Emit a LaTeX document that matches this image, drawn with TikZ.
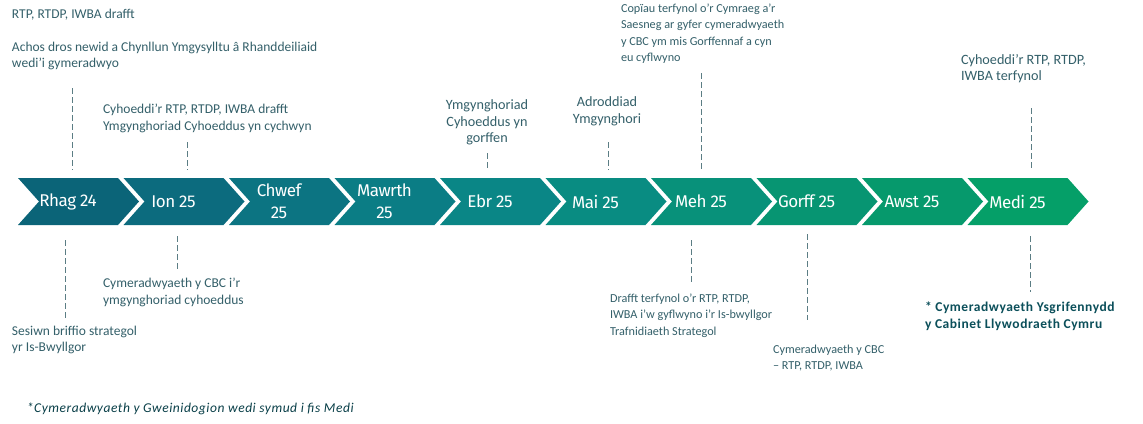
\documentclass[tikz,border=0pt]{standalone}
\usepackage{fontspec}
\setmainfont{Carlito}
\newfontfamily\chevfont[LetterSpace=-3]{Fira Sans}
\newfontfamily\widefont[LetterSpace=4]{Carlito}
\definecolor{annot}{HTML}{34606A}
\definecolor{boldc}{HTML}{0B4F5A}
\definecolor{dashc}{HTML}{5B7D84}
\definecolor{cv0}{HTML}{0B6478}
\definecolor{cv1}{HTML}{0C6B7E}
\definecolor{cv2}{HTML}{0C7482}
\definecolor{cv3}{HTML}{0B7D85}
\definecolor{cv4}{HTML}{0A8686}
\definecolor{cv5}{HTML}{098C82}
\definecolor{cv6}{HTML}{08917A}
\definecolor{cv7}{HTML}{079572}
\definecolor{cv8}{HTML}{06996C}
\definecolor{cv9}{HTML}{059F68}
\tikzset{
  note/.style={inner sep=0pt, outer sep=0pt, text=annot, font=\fontsize{13.5}{16.5}\selectfont, align=left},
  notesm/.style={note, font=\fontsize{12.2}{16.3}\selectfont},
  notec/.style={note, align=center, font=\fontsize{14.2}{16.5}\selectfont},
  chevlabel/.style={inner sep=0pt, text=white, font=\chevfont\fontsize{17}{22}\selectfont, align=center},
  leader/.style={draw=dashc, line width=0.8pt, dash pattern=on 6pt off 3pt}
}
\begin{document}
\begin{tikzpicture}[x=1pt,y=-1pt]
\useasboundingbox[fill=white] (0,0) rectangle (1143,423);
% chevrons
\foreach \i/\lab in {0/{Rhag 24},1/{Ion 25},2/{Chwef\\25},3/{Mawrth\\25},4/{Ebr 25},5/{Mai 25},6/{Meh 25},7/{Gorff 25},8/{Awst 25},9/{Medi 25}}{
  \pgfmathsetmacro\xo{18+105.5*\i}
  \fill[cv\i] (\xo,178) -- ++(100,0) -- ++(21,23.5) -- ++(-21,23.5) -- ++(-100,0) -- ++(21,-23.5) -- cycle;
  \node[chevlabel] (m\i) at (\xo+50,201.5) {\lab};
}
% top notes
\node[note, anchor=north west] (t1) at (12,9) {RTP, RTDP, IWBA drafft};
\node[note, anchor=north west] (t2) at (12,42) {Achos dros newid a Chynllun Ymgysylltu â Rhanddeiliaid\\wedi’i gymeradwyo};
\node[note, anchor=north west] (t3) at (103,104) {Cyhoeddi’r RTP, RTDP, IWBA drafft\\Ymgynghoriad Cyhoeddus yn cychwyn};
\node[notec, anchor=north] (t4) at (487,100) {Ymgynghoriad\\Cyhoeddus yn\\gorffen};
\node[notec, anchor=north] (t5) at (607,97) {Adroddiad\\Ymgynghori};
\node[notesm, anchor=north west] (t6) at (621,4) {Copïau terfynol o’r Cymraeg a’r\\Saesneg ar gyfer cymeradwyaeth\\y CBC ym mis Gorffennaf a cyn\\eu cyflwyno};
\node[note, anchor=north west, font=\fontsize{14.2}{16.5}\selectfont] (t7) at (961,54) {Cyhoeddi’r RTP, RTDP,\\IWBA terfynol};
% bottom notes
\node[note, anchor=north west] (b1) at (12,326) {Sesiwn briffio strategol\\yr Is-Bwyllgor};
\node[note, anchor=north west] (b2) at (103,278) {Cymeradwyaeth y CBC i’r\\ymgynghoriad cyhoeddus};
\node[notesm, anchor=north west] (b3) at (610,294) {Drafft terfynol o’r RTP, RTDP,\\IWBA i’w gyflwyno i’r Is-bwyllgor\\Trafnidiaeth Strategol};
\node[notesm, anchor=north west] (b4) at (773,345) {Cymeradwyaeth y CBC\\– RTP, RTDP, IWBA};
\node[note, anchor=north west, text=boldc, font=\widefont\bfseries\fontsize{13.5}{16.8}\selectfont] (b5) at (925,302) {* Cymeradwyaeth Ysgrifennydd\\y Cabinet Llywodraeth Cymru};
\node[note, anchor=north west, text=boldc!80!black, font=\widefont\itshape\fontsize{13.5}{16.5}\selectfont] (fn) at (27,403) {*Cymeradwyaeth y Gweinidogion wedi symud i fis Medi};
% leader end points
\coordinate (la1) at (72,88);   \coordinate (lb1) at (72,170);
\coordinate (la2) at (187,142); \coordinate (lb2) at (187,170);
\coordinate (la3) at (487,153); \coordinate (lb3) at (487,170);
\coordinate (la4) at (608,142); \coordinate (lb4) at (608,170);
\coordinate (la5) at (701,73);  \coordinate (lb5) at (701,170);
\coordinate (la6) at (1031,108);\coordinate (lb6) at (1031,168);
\coordinate (lc1) at (65,240);  \coordinate (ld1) at (65,320);
\coordinate (lc2) at (177,236); \coordinate (ld2) at (177,272);
\coordinate (lc3) at (691,240); \coordinate (ld3) at (691,284);
\coordinate (lc4) at (807,234); \coordinate (ld4) at (807,320);
\coordinate (lc5) at (1030,236);\coordinate (ld5) at (1030,292);
\foreach \k in {1,...,6}{\draw[leader] (la\k) -- (lb\k);}
\foreach \k in {1,...,5}{\draw[leader] (lc\k) -- (ld\k);}
\end{tikzpicture}
\end{document}
